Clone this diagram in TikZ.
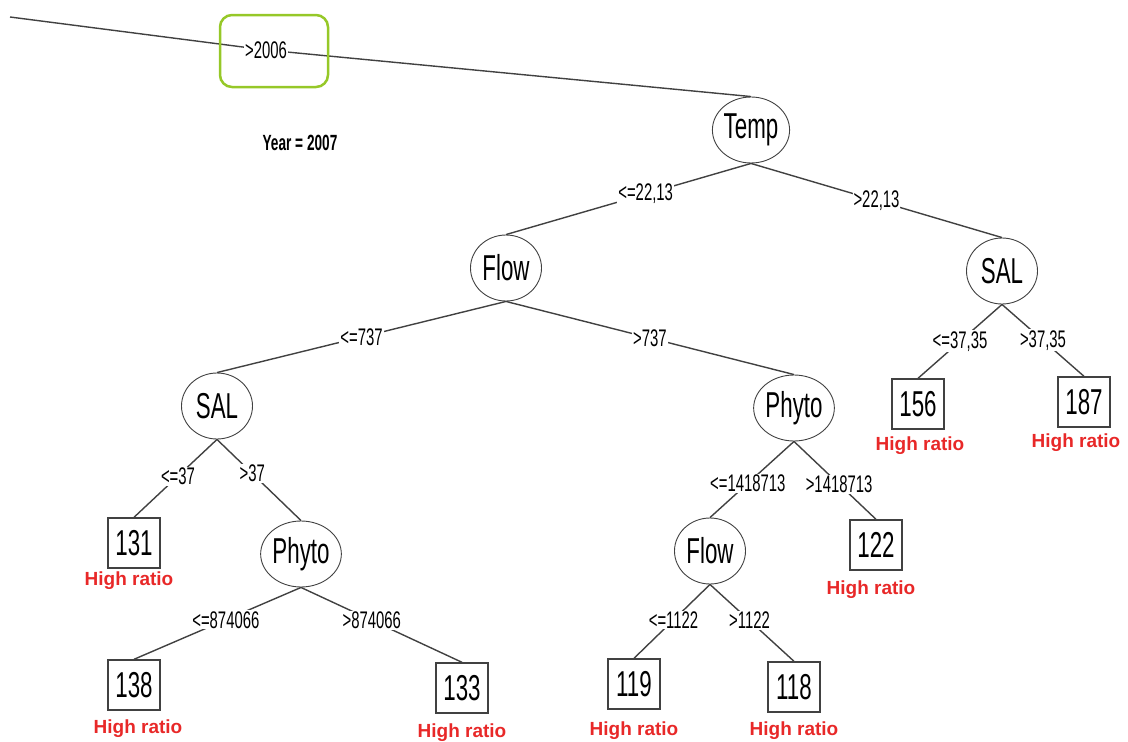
\documentclass[tikz,border=0pt]{standalone}
\usepackage{fontspec}
\setmainfont{Liberation Sans}
\newfontfamily\narrowfont[FakeStretch=0.62]{Liberation Sans}
\usepackage{tikz}
\usetikzlibrary{shapes.geometric}
\definecolor{boxgreen}{RGB}{150,200,40}
\definecolor{ratiored}{RGB}{232,40,40}
\definecolor{linegray}{RGB}{65,65,65}

\begin{document}
\begin{tikzpicture}[x=1pt, y=-1pt,
    split/.style={ellipse,draw=linegray,line width=0.9pt,minimum width=71pt,minimum height=66pt,inner sep=0pt,font=\narrowfont\fontsize{36}{36}\selectfont},
    leaf/.style={rectangle,draw=linegray,line width=1.4pt,minimum width=52pt,minimum height=50pt,inner sep=0pt,font=\narrowfont\fontsize{36}{36}\selectfont},
    cut/.style={fill=white,inner sep=1pt,font=\narrowfont\fontsize{24}{24}\selectfont},
    ratio/.style={text=ratiored,font=\bfseries\fontsize{19}{19}\selectfont},
    every edge/.style={draw=linegray,line width=1.4pt}]

        \useasboundingbox (0, 0) rectangle (1128, 742);

        \coordinate                (root) at (10, 17);
        \node[cut]                (g2006) at (266, 50)         {>2006};
        \node[split]               (temp) at (751, 130)        {Temp};
        \node[split]               (flow) at (506, 268)        {Flow};
        \node[split]               (salr) at (1002, 271)       {SAL};
        \node[split]               (sall) at (217, 406)        {SAL};
        \node[split]             (phytor) at (794, 408)        {Phyto};
        \node[split]             (phytol) at (301, 554)        {Phyto};
        \node[split]              (flowb) at (710, 551)        {Flow};

        \node[leaf]                (n131) at (134, 543)        {131};
        \node[leaf]                (n138) at (134, 685)        {138};
        \node[leaf]                (n133) at (462, 688)        {133};
        \node[leaf]                (n122) at (876, 545)        {122};
        \node[leaf]                (n119) at (634, 684)        {119};
        \node[leaf]                (n118) at (794, 687)        {118};
        \node[leaf]                (n156) at (918, 404)        {156};
        \node[leaf]                (n187) at (1084, 402)       {187};

        \node[ratio]               (r131) at (129, 581)        {High ratio};
        \node[ratio]               (r138) at (138, 729)        {High ratio};
        \node[ratio]               (r133) at (462, 733)        {High ratio};
        \node[ratio]               (r122) at (871, 590)        {High ratio};
        \node[ratio]               (r119) at (634, 731)        {High ratio};
        \node[ratio]               (r118) at (794, 731)        {High ratio};
        \node[ratio]               (r156) at (920, 446)        {High ratio};
        \node[ratio]               (r187) at (1076, 443)       {High ratio};

        \node[font=\narrowfont\bfseries\fontsize{22}{22}\selectfont] (year) at (300, 143) {Year = 2007};


        \draw (root) edge (g2006) (g2006) edge (temp.north);
        \draw (temp.south) edge node[cut, pos=.43] {<=22,13} (flow.north);
        \draw (temp.south) edge node[cut, pos=.5] {>22,13} (salr.north);
        \draw (flow.south) edge node[cut, pos=.5] {<=737} (sall.north);
        \draw (flow.south) edge node[cut, pos=.5] {>737} (phytor.north);
        \draw (sall.south) edge node[cut, pos=.47] {<=37} (n131.north);
        \draw (sall.south) edge node[cut, pos=.42] {>37} (phytol.north);
        \draw (phytol.south) edge node[cut, pos=.45] {<=874066} (n138.north);
        \draw (phytol.south) edge node[cut, pos=.44] {>874066} (n133.north);
        \draw (phytor.south) edge node[cut, pos=.55] {<=1418713} (flowb.north);
        \draw (phytor.south) edge node[cut, pos=.55] {>1418713} (n122.north);
        \draw (flowb.south) edge node[cut, pos=.48] {<=1122} (n119.north);
        \draw (flowb.south) edge node[cut, pos=.47] {>1122} (n118.north);
        \draw (salr.south) edge node[cut, pos=.5] {<=37,35} (n156.north);
        \draw (salr.south) edge node[cut, pos=.5] {>37,35} (n187.north);

        \node[draw=boxgreen, line width=2.5pt, rounded corners=12pt, minimum width=108pt, minimum height=72pt] (hl) at (274, 51) {};
      \end{tikzpicture}
\end{document}
